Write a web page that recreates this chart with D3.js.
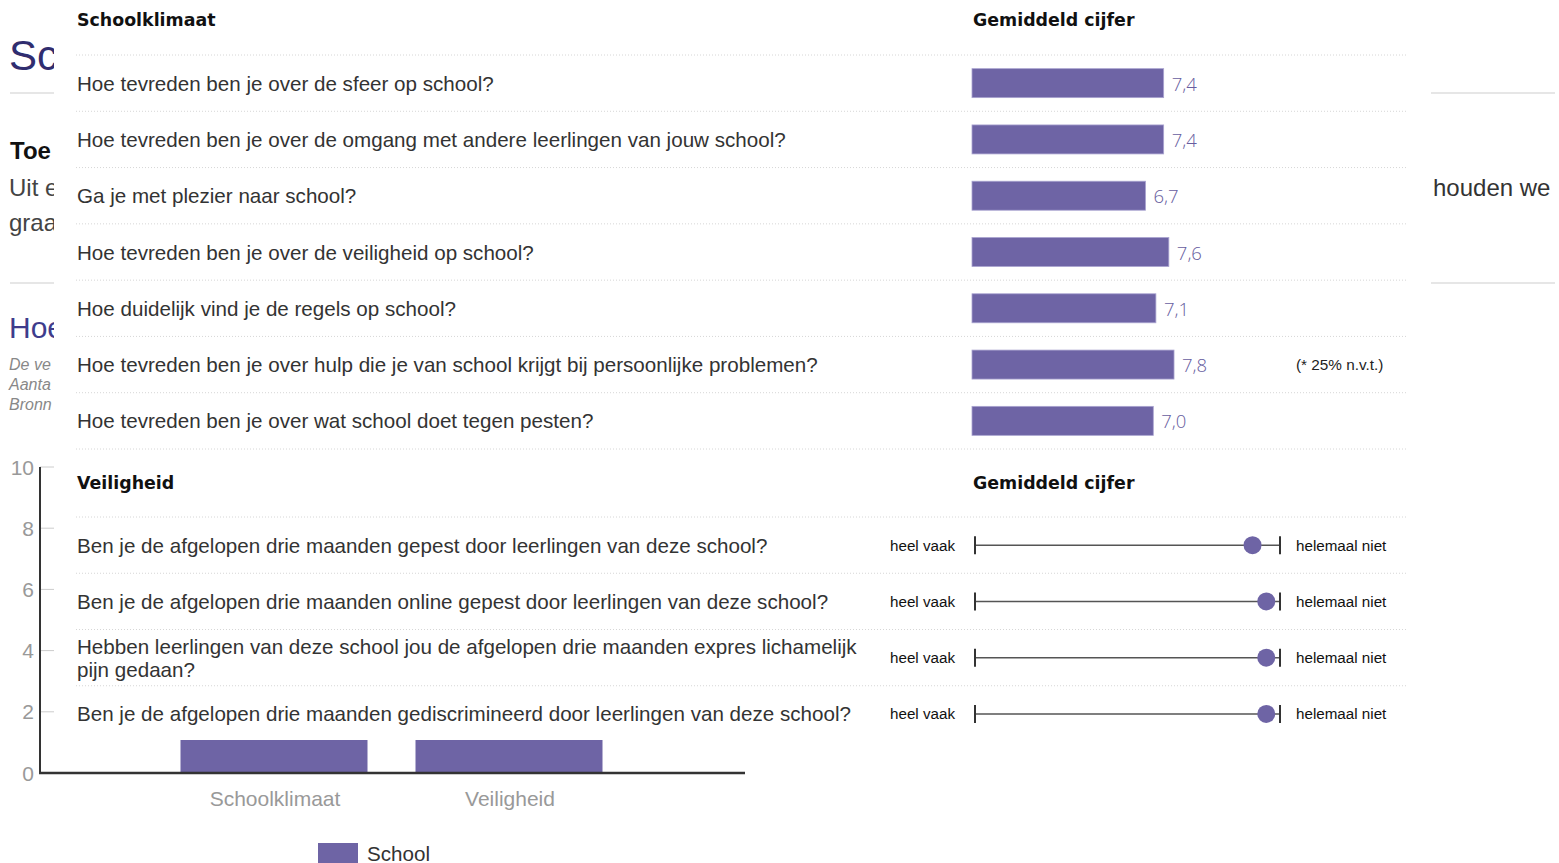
<!DOCTYPE html>
<html>
<head>
<meta charset="utf-8">
<script src="https://cdn.jsdelivr.net/npm/d3@7"></script>
<style>
  body { margin: 0; background: #fff; }
  svg { display: block; }
</style>
</head>
<body>
<div id="viz"></div>
<script>
// achtergrond grafiek (overzicht)
const overzichtCats = ["Schoolklimaat", "Veiligheid"];
const overzichtWaarden = [7.3, 9.4];
const yTicks = [0, 2, 4, 6, 8, 10];

// schoolklimaat tabel
const klimaatVragen = [
  "Hoe tevreden ben je over de sfeer op school?",
  "Hoe tevreden ben je over de omgang met andere leerlingen van jouw school?",
  "Ga je met plezier naar school?",
  "Hoe tevreden ben je over de veiligheid op school?",
  "Hoe duidelijk vind je de regels op school?",
  "Hoe tevreden ben je over hulp die je van school krijgt bij persoonlijke problemen?",
  "Hoe tevreden ben je over wat school doet tegen pesten?"
];
const klimaatCijfers = [7.4, 7.4, 6.7, 7.6, 7.1, 7.8, 7.0];
const klimaatOpm = ["", "", "", "", "", "(* 25% n.v.t.)", ""];

// veiligheid tabel
const veiligVragen = [
  ["Ben je de afgelopen drie maanden gepest door leerlingen van deze school?"],
  ["Ben je de afgelopen drie maanden online gepest door leerlingen van deze school?"],
  ["Hebben leerlingen van deze school jou de afgelopen drie maanden expres lichamelijk", "pijn gedaan?"],
  ["Ben je de afgelopen drie maanden gediscrimineerd door leerlingen van deze school?"]
];
const veiligScores = [9.1, 9.55, 9.55, 9.55];

// stukjes tekst van de pagina die naast de popup zichtbaar zijn
const paginaLinks = ["Toe", "Uit e", "graa"];
const bronRegels = ["De ve", "Aanta", "Bronn"];

const paars = "#6e64a5";

const svg = d3.select("#viz").append("svg")
  .attr("width", 1559)
  .attr("height", 863)
  .style("font-family", "'Liberation Sans', Arial, sans-serif");

// alles links van de popup afknippen
svg.append("defs").append("clipPath").attr("id", "links")
  .append("rect").attr("x", 0).attr("y", 0).attr("width", 54).attr("height", 863);

// ---------- pagina op de achtergrond ----------
const bg = svg.append("g");
const bgL = bg.append("g").attr("clip-path", "url(#links)");
bgL.append("text").attr("x", 9).attr("y", 70).attr("font-size", 42).attr("fill", "#302d6f").text("Sc");
bgL.append("text").attr("x", 10).attr("y", 159).attr("font-size", 24).attr("font-weight", "bold")
  .attr("fill", "#111").text(paginaLinks[0]);
bgL.append("text").attr("x", 9).attr("y", 196).attr("font-size", 24).attr("fill", "#444").text(paginaLinks[1]);
bgL.append("text").attr("x", 9).attr("y", 231).attr("font-size", 24).attr("fill", "#444").text(paginaLinks[2]);
bgL.append("text").attr("x", 9).attr("y", 338).attr("font-size", 30).attr("fill", "#3e3c8c").text("Hoe");
bronRegels.forEach((t, i) => {
  bgL.append("text").attr("x", 9).attr("y", 370 + i * 20).attr("font-size", 16)
    .attr("font-style", "italic").attr("fill", "#888").text(t);
});
[93, 283].forEach(ly => {
  bg.append("line").attr("x1", 10).attr("x2", 1555).attr("y1", ly).attr("y2", ly)
    .attr("stroke", "#e6e6e6").attr("stroke-width", 2);
});
bg.append("text").attr("x", 1433).attr("y", 196).attr("font-size", 24).attr("fill", "#333").text("houden we");

// overzicht staafgrafiek
const y = d3.scaleLinear().domain([0, 10]).range([773, 467]);
const x = d3.scalePoint().domain(overzichtCats).range([40, 745]).padding(1);
const barW = 187;

bg.selectAll(".grid").data(yTicks.slice(1)).join("line")
  .attr("x1", 40).attr("x2", 745)
  .attr("y1", d => y(d)).attr("y2", d => y(d))
  .attr("stroke", "#ccc");
bg.selectAll(".ytick").data(yTicks).join("text")
  .attr("x", 34).attr("y", d => y(d))
  .attr("text-anchor", "end").attr("dominant-baseline", "central")
  .attr("font-size", 21).attr("fill", "#999")
  .text(d => d);
bg.selectAll(".obar").data(overzichtWaarden).join("rect")
  .attr("x", (d, i) => x(overzichtCats[i]) - barW / 2 - 1)
  .attr("width", barW)
  .attr("y", d => y(d))
  .attr("height", d => y(0) - y(d))
  .attr("fill", paars);
bg.append("line").attr("x1", 40).attr("x2", 40).attr("y1", 467).attr("y2", 774)
  .attr("stroke", "#333").attr("stroke-width", 2);
bg.append("line").attr("x1", 39).attr("x2", 745).attr("y1", 773).attr("y2", 773)
  .attr("stroke", "#333").attr("stroke-width", 2.5);
bg.selectAll(".xlab").data(overzichtCats).join("text")
  .attr("x", d => x(d)).attr("y", 798)
  .attr("text-anchor", "middle").attr("dominant-baseline", "central")
  .attr("font-size", 21).attr("fill", "#999")
  .text(d => d);
bg.append("rect").attr("x", 318).attr("y", 843).attr("width", 40).attr("height", 20).attr("fill", paars);
bg.append("text").attr("x", 367).attr("y", 853).attr("dominant-baseline", "central")
  .attr("font-size", 20.6).attr("fill", "#333").text("School");

// ---------- popup ----------
const pop = svg.append("g");
pop.append("rect").attr("x", 54).attr("y", 0).attr("width", 1377).attr("height", 740).attr("fill", "#fff");

const kopFont = "'DejaVu Sans', Verdana, sans-serif";
function kop(yPos, label) {
  pop.append("text").attr("x", 77).attr("y", yPos).attr("dominant-baseline", "central")
    .attr("font-family", kopFont).attr("font-weight", "bold").attr("font-size", 17.4).attr("fill", "#111")
    .text(label);
  pop.append("text").attr("x", 973).attr("y", yPos).attr("dominant-baseline", "central")
    .attr("font-family", kopFont).attr("font-weight", "bold").attr("font-size", 17.4).attr("fill", "#111")
    .text("Gemiddeld cijfer");
}
function stippel(yPos) {
  pop.append("line").attr("x1", 76).attr("x2", 1406).attr("y1", yPos).attr("y2", yPos)
    .attr("stroke", "#d6d6d6").attr("stroke-dasharray", "1,2");
}

// schoolklimaat
kop(20, "Schoolklimaat");
const rowK = d3.scaleBand().domain(d3.range(klimaatVragen.length)).range([55, 449]);
const xK = d3.scaleLinear().domain([0, 10]).range([972, 1231]);
klimaatVragen.forEach((v, i) => {
  const cy = rowK(i) + rowK.bandwidth() / 2;
  stippel(rowK(i));
  pop.append("text").attr("x", 77).attr("y", cy).attr("dominant-baseline", "central")
    .attr("font-size", 20.6).attr("fill", "#333").text(v);
});
stippel(449);
pop.selectAll(".kbar").data(klimaatCijfers).join("rect")
  .attr("x", xK(0))
  .attr("y", (d, i) => rowK(i) + rowK.bandwidth() / 2 - 14.5)
  .attr("width", d => xK(d) - xK(0))
  .attr("height", 29)
  .attr("fill", paars)
  .attr("stroke", "#aaa4d0").attr("stroke-width", 0.8);
pop.selectAll(".klab").data(klimaatCijfers).join("text")
  .attr("x", d => xK(d) + 8)
  .attr("y", (d, i) => rowK(i) + rowK.bandwidth() / 2)
  .attr("dominant-baseline", "central")
  .attr("font-family", "'Open Sans', sans-serif").attr("font-weight", 300)
  .attr("font-size", 18.5).attr("fill", "#675da0")
  .text(d => d3.format(".1f")(d).replace(".", ","));
pop.selectAll(".kopm").data(klimaatOpm).join("text")
  .attr("x", 1296)
  .attr("y", (d, i) => rowK(i) + rowK.bandwidth() / 2)
  .attr("dominant-baseline", "central")
  .attr("font-size", 15.3).attr("fill", "#222")
  .text(d => d);

// veiligheid
kop(483, "Veiligheid");
const rowV = d3.scaleBand().domain(d3.range(veiligVragen.length)).range([517, 742]);
const xV = d3.scaleLinear().domain([0, 10]).range([975, 1280]);
veiligVragen.forEach((lines, i) => {
  const cy = rowV(i) + rowV.bandwidth() / 2;
  stippel(rowV(i));
  lines.forEach((l, j) => {
    pop.append("text").attr("x", 77).attr("y", cy + (j - (lines.length - 1) / 2) * 23)
      .attr("dominant-baseline", "central")
      .attr("font-size", 20.6).attr("fill", "#333").text(l);
  });
  pop.append("text").attr("x", 955).attr("y", cy).attr("text-anchor", "end")
    .attr("dominant-baseline", "central").attr("font-size", 15.2).attr("fill", "#111").text("heel vaak");
  pop.append("text").attr("x", 1296).attr("y", cy)
    .attr("dominant-baseline", "central").attr("font-size", 15.2).attr("fill", "#111").text("helemaal niet");
  pop.append("line").attr("x1", xV(0)).attr("x2", xV(10)).attr("y1", cy).attr("y2", cy)
    .attr("stroke", "#555").attr("stroke-width", 1.5);
  [0, 10].forEach(t => {
    pop.append("line").attr("x1", xV(t)).attr("x2", xV(t)).attr("y1", cy - 9).attr("y2", cy + 9)
      .attr("stroke", "#333").attr("stroke-width", 2);
  });
});
pop.selectAll(".vdot").data(veiligScores).join("circle")
  .attr("cx", d => xV(d))
  .attr("cy", (d, i) => rowV(i) + rowV.bandwidth() / 2)
  .attr("r", 9)
  .attr("fill", paars);
</script>
</body>
</html>
